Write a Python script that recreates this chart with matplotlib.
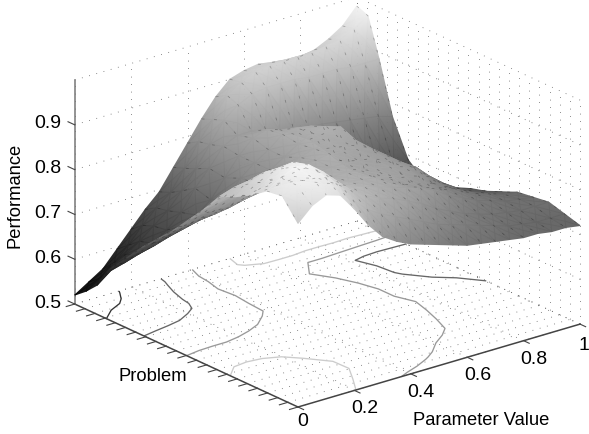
import numpy as np
import matplotlib
matplotlib.use('Agg')
import matplotlib.pyplot as plt
from matplotlib.colors import PowerNorm
from mpl_toolkits.mplot3d import proj3d

plt.rcParams['font.family'] = ['Liberation Sans', 'DejaVu Sans']

W, H = 589, 435

# values
param = [0, .05, .1, .15, .2, .25, .3, .35, .4, .45, .5, .55, .6, .65, .7, .75, .8, .85, .9, .95, 1]
problem = [0, .07, .14, .21, .28, .35, .42, .49, .56, .63, .70, .77, .84, .90, .95, 1]
perf = [
    [.91, .94, .955, .945, .905, .86, .825, .805, .79, .78, .77, .76, .75, .745, .74, .735, .73, .73, .725, .725, .72],
    [.955, .97, .98, .97, .94, .90, .87, .85, .835, .82, .805, .79, .78, .77, .76, .75, .74, .735, .73, .73, .73],
    [.95, .97, .985, .98, .955, .925, .895, .875, .86, .85, .835, .82, .80, .785, .77, .76, .75, .745, .74, .74, .74],
    [.925, .945, .965, .97, .95, .92, .895, .88, .87, .86, .85, .84, .83, .815, .795, .78, .765, .755, .745, .74, .735],
    [.905, .925, .94, .94, .92, .895, .88, .87, .865, .86, .855, .85, .84, .83, .805, .785, .77, .755, .745, .735, .73],
    [.89, .90, .905, .90, .89, .88, .87, .865, .86, .86, .855, .85, .845, .835, .82, .79, .765, .745, .73, .72, .715],
    [.845, .85, .855, .855, .855, .85, .85, .85, .855, .855, .855, .85, .845, .835, .82, .80, .77, .745, .725, .71, .70],
    [.805, .81, .81, .81, .815, .82, .83, .84, .85, .855, .86, .855, .85, .84, .82, .785, .755, .73, .71, .70, .69],
    [.765, .77, .775, .775, .78, .79, .80, .815, .83, .845, .855, .86, .855, .845, .82, .785, .735, .71, .695, .68, .675],
    [.73, .735, .74, .745, .75, .755, .77, .79, .81, .83, .85, .865, .87, .86, .81, .77, .72, .695, .68, .67, .665],
    [.695, .70, .705, .71, .72, .73, .75, .785, .81, .83, .855, .86, .855, .83, .79, .75, .72, .69, .675, .665, .66],
    [.655, .66, .665, .675, .69, .705, .73, .77, .81, .84, .85, .84, .82, .80, .77, .735, .705, .685, .68, .685, .69],
    [.615, .62, .63, .645, .665, .695, .74, .775, .815, .83, .83, .825, .815, .805, .80, .80, .795, .79, .785, .78, .77],
    [.565, .60, .615, .635, .66, .685, .72, .76, .805, .85, .875, .89, .895, .895, .895, .89, .89, .89, .885, .885, .885],
    [.54, .56, .585, .615, .65, .68, .705, .75, .80, .84, .885, .905, .92, .925, .925, .925, .925, .93, .935, .95, .97],
    [.52, .54, .56, .595, .63, .665, .695, .74, .785, .83, .87, .90, .91, .915, .91, .905, .905, .91, .925, .945, .98],
]
contour_levels = [.6, .7, .8, .9]
param_ticks = [0, .2, .4, .6, .8, 1]
param_labels = ['0', '0.2', '0.4', '0.6', '0.8', '1']
perf_ticks = [.5, .6, .7, .8, .9]
perf_labels = ['0.5', '0.6', '0.7', '0.8', '0.9']
problem_ticks = np.arange(23) / 22
wall_ticks = [.5, .6, .7, .8, .9, 1]

fig = plt.figure(figsize=(W / 100, H / 100), dpi=100)
side = 800
ax = fig.add_axes([(W - side) / 2 / W, (H - side) / 2 / H, side / W, side / H],
                  projection='3d', proj_type='ortho')
ax.computed_zorder = False
ax.set_axis_off()
ax.patch.set_alpha(0)
ax.view_init(elev=21.6, azim=-128.6)
ax.set_xlim(0, 1, view_margin=0)
ax.set_ylim(0, 1, view_margin=0)
ax.set_zlim(.5, 1, view_margin=0)


def px(x, y, z):
    xs, ys, _ = proj3d.proj_transform(np.ravel(x), np.ravel(y), np.ravel(z), ax.get_proj())
    return ax.transData.transform(np.column_stack([xs, ys]))


# fit the box to where the axes sit in the reference
box = (361, 358, 241)
zoom = 1.0
for _ in range(3):
    ax.set_box_aspect(box, zoom=zoom)
    fig.canvas.draw()
    a, b = px(0, 0, .5)[0], px(1, 0, .5)[0]
    zoom *= np.hypot(282, 83) / np.hypot(*(b - a))
ax.set_box_aspect(box, zoom=zoom)
fig.canvas.draw()
a = px(0, 0, .5)[0]
pos = ax.get_position(original=True)
ax.set_position([pos.x0 + (298 - a[0]) / W, pos.y0 + (H - 408 - a[1]) / H, pos.width, pos.height])
fig.canvas.draw()

dots = dict(color='#666666', lw=.6, dashes=(1, 8), zorder=1)
for t in problem_ticks:
    ax.plot([0, 1], [t, t], [.5, .5], **dots)
    ax.plot([1, 1], [t, t], [.5, 1], **dots)
for t in param_ticks:
    ax.plot([t, t], [0, 1], [.5, .5], **dots)
    ax.plot([t, t], [1, 1], [.5, 1], **dots)
for t in wall_ticks:
    ax.plot([0, 1], [1, 1], [t, t], **dots)
    ax.plot([1, 1], [0, 1], [t, t], **dots)

P, Q = np.meshgrid(param, problem)
Z = np.array(perf)

ax.contour(P, Q, Z, levels=contour_levels, zdir='z', offset=.5, cmap='gray',
           vmin=.5, vmax=1, linewidths=.95, zorder=2)

# axes lines and ticks
axis_color = '#444444'
ax.plot([0, 1], [0, 0], [.5, .5], color=axis_color, lw=1.1, zorder=4)
ax.plot([0, 0], [0, 1], [.5, .5], color=axis_color, lw=1.1, zorder=4)
ax.plot([0, 0], [1, 1], [.5, 1], color='#777777', lw=1.1, zorder=4)
for t in problem_ticks:
    ax.plot([0, -.03], [t, t], [.5, .5], color=axis_color, lw=.8, zorder=4)
for t in param_ticks:
    ax.plot([t, t], [0, -.025], [.5, .5], color=axis_color, lw=.8, zorder=4)
for t in perf_ticks:
    ax.plot([0, 0], [1, 1.03], [t, t], color=axis_color, lw=.8, zorder=4)

# surface: smooth shaded mesh in screen space, painted far corner first
ax2 = fig.add_axes([0, 0, 1, 1], facecolor='none')
ax2.set_xlim(0, W)
ax2.set_ylim(0, H)
ax2.set_axis_off()
far_first = px(P[::-1, ::-1], Q[::-1, ::-1], Z[::-1, ::-1]).reshape(Z.shape + (2,))
ax2.pcolormesh(far_first[..., 0], far_first[..., 1], Z[::-1, ::-1], shading='gouraud',
               cmap='gray', norm=PowerNorm(1.2, vmin=.5, vmax=1), alpha=.96)
# the dark mesh flecks on the sheet
for j in range(len(param)):
    ax2.plot(far_first[:, j, 0], far_first[:, j, 1], color='black', lw=.5, alpha=.3, dashes=(4, 14))

fs = 13.2
tick_fs = 14
for t, s in zip(param_ticks, param_labels):
    x, y = px(t, 0, .5)[0]
    if t == 0:
        fig.text((x + 5) / W, (y - 14) / H, s, fontsize=tick_fs, ha='center', va='center')
    elif t == 1:
        fig.text(1, (y - 20) / H, s, fontsize=tick_fs, ha='right', va='center')
    else:
        fig.text((x + 10.5) / W, (y - 17.5) / H, s, fontsize=tick_fs, ha='center', va='center')
for t, s in zip(perf_ticks, perf_labels):
    x, y = px(0, 1, t)[0]
    fig.text((x - 26.5) / W, (y + 2) / H, s, fontsize=tick_fs, ha='center', va='center')

fig.text(15 / W, (H - 195) / H, 'Performance', fontsize=fs, rotation=90, ha='center', va='center')
fig.text(153 / W, (H - 377) / H, 'Problem', fontsize=fs, ha='center', va='center')
fig.text(481 / W, (H - 421) / H, 'Parameter Value', fontsize=fs, ha='center', va='center')

fig.savefig('out.png', dpi=100)
